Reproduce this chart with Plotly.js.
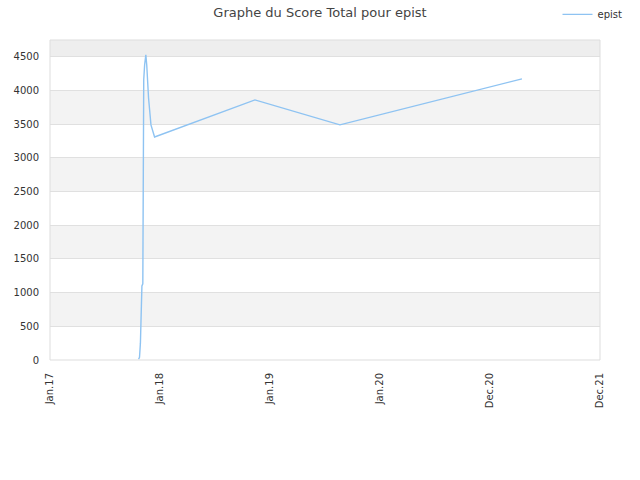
<!DOCTYPE html>
<html>
<head>
<meta charset="utf-8">
<script src="https://cdn.plot.ly/plotly-3.0.1.min.js"></script>
<style>html,body{margin:0;padding:0;background:#fff;}#chart{width:640px;height:480px;}</style>
</head>
<body>
<div id="chart"></div>
<script>
var dates = ['2017-10-22','2017-10-25','2017-10-28','2017-10-30','2017-11-02','2017-11-05','2017-11-08','2017-11-11','2017-11-15','2017-11-18','2017-11-20','2017-11-24','2017-11-29','2017-12-02','2017-12-14','2018-11-12','2019-08-21','2021-04-16'];
var scores = [10,40,250,900,1100,1130,4160,4380,4530,4380,4190,3890,3640,3490,3310,3861,3490,4173];
var tickDates = ['2017-01-01','2018-01-01','2019-01-01','2020-01-01','2020-12-31','2021-12-31'];
var tickLabels = ['Jan.17','Jan.18','Jan.19','Jan.20','Dec.20','Dec.21'];
var yTicks = [0,500,1000,1500,2000,2500,3000,3500,4000,4500];
var yMax = 4750;

var shapes = [];
for (var i = 0; i < yTicks.length; i++) {
  var lo = yTicks[i];
  var hi = (i + 1 < yTicks.length) ? yTicks[i + 1] : yMax;
  if (i % 2 === 1) {
    shapes.push({type:'rect', xref:'paper', yref:'y', x0:0, x1:1, y0:lo, y1:hi,
      fillcolor: (i === yTicks.length - 1) ? '#eeeeee' : '#f3f3f3', line:{width:0}, layer:'below'});
  }
}
shapes.push({type:'rect', xref:'paper', yref:'paper', x0:0, x1:1, y0:0, y1:1,
  fillcolor:'rgba(0,0,0,0)', line:{color:'#dddddd', width:1}});

var trace = {
  x: dates, y: scores, type:'scatter', mode:'lines', name:'epist',
  line:{color:'#8ec3f2', width:1.4}
};

var layout = {
  width:640, height:480,
  margin:{l:50, r:40, t:40, b:120, autoexpand:false},
  paper_bgcolor:'#ffffff', plot_bgcolor:'#ffffff',
  font:{family:'"DejaVu Sans", sans-serif', size:10, color:'#333333'},
  title:{text:'Graphe du Score Total pour epist', font:{size:13, color:'#444444'}, x:0.5, xanchor:'center', y:0.975, yanchor:'middle'},
  showlegend:true,
  legend:{x:1.05, xanchor:'right', y:1.08, yanchor:'middle', orientation:'h', font:{size:10, color:'#333333'}, bgcolor:'rgba(0,0,0,0)'},
  xaxis:{type:'date', range:['2017-01-01','2021-12-31'], tickmode:'array', tickvals:tickDates, ticktext:tickLabels,
    tickangle:-90, showgrid:false, zeroline:false, showline:false, ticks:'outside', ticklen:8, tickcolor:'rgba(0,0,0,0)', tickfont:{size:10, color:'#333333'}},
  yaxis:{range:[0,yMax], tickmode:'array', tickvals:yTicks, showgrid:true, gridcolor:'#e0e0e0', gridwidth:1,
    zeroline:false, showline:false, ticks:'outside', ticklen:8, tickcolor:'rgba(0,0,0,0)', tickfont:{size:10, color:'#333333'}},
  shapes: shapes
};

Plotly.newPlot('chart', [trace], layout, {displayModeBar:false, staticPlot:true});
</script>
</body>
</html>
